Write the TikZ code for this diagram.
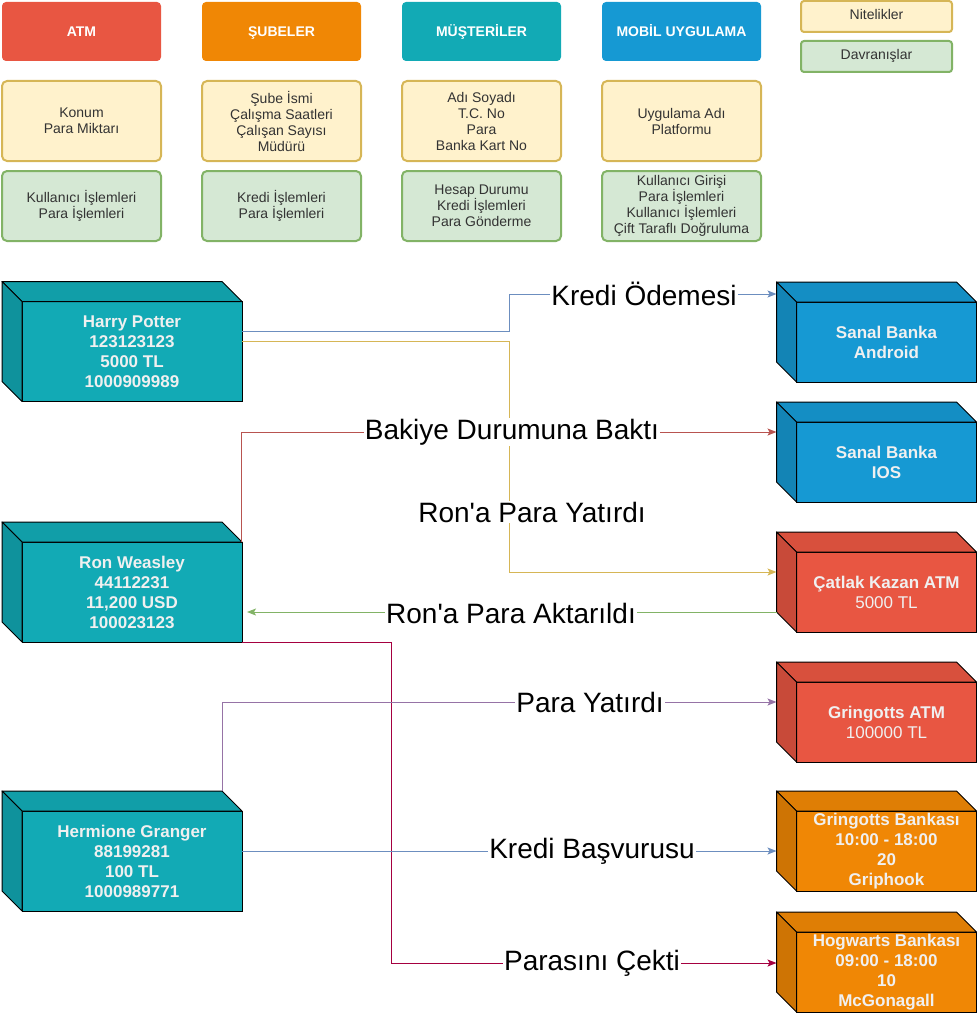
\documentclass[tikz,border=0pt]{standalone}
\usepackage{fontspec}
\setmainfont{Liberation Sans}[Ligatures=TeXOff]
\usetikzlibrary{arrows.meta,calc}
\definecolor{cred}{HTML}{E85642}
\definecolor{corange}{HTML}{F08705}
\definecolor{cteal}{HTML}{12AAB5}
\definecolor{cblue}{HTML}{1699D3}
\definecolor{yfill}{HTML}{FFF2CC}
\definecolor{ystroke}{HTML}{D6B656}
\definecolor{gfill}{HTML}{D5E8D4}
\definecolor{gstroke}{HTML}{82B366}
\definecolor{ltext}{HTML}{333333}
\definecolor{ctext}{HTML}{F0F0F0}
\definecolor{eblue}{HTML}{6C8EBF}
\definecolor{ered}{HTML}{B85450}
\definecolor{epurple}{HTML}{9673A6}
\definecolor{emag}{HTML}{A50040}
\tikzset{
  hdr/.style={fill=#1, rounded corners=4pt, minimum width=159pt, minimum height=59pt, inner sep=0pt, outer sep=0pt, text=white, text height=10pt, text depth=0pt, font=\fontsize{14}{16}\selectfont\bfseries},
  attrbox/.style={draw=ystroke, fill=yfill, line width=2pt, rounded corners=5pt, minimum width=159pt, minimum height=80pt, text=ltext, align=center, font=\fontsize{14}{16}\selectfont, inner sep=0pt},
  behbox/.style={draw=gstroke, fill=gfill, line width=2pt, rounded corners=5pt, minimum width=159pt, minimum height=70pt, text=ltext, align=center, font=\fontsize{14}{16}\selectfont, inner sep=0pt},
  legbox/.style={line width=2pt, rounded corners=3pt, minimum width=151pt, minimum height=31pt, text=ltext, text height=10pt, text depth=3pt, font=\fontsize{14}{16}\selectfont, inner sep=0pt},
  frontface/.style={draw=black, line width=1pt, fill=#1, inner sep=0pt, outer sep=0pt, text=ctext, align=center, font=\fontsize{17}{20}\selectfont\bfseries},
  leftcube/.style={frontface=#1, minimum width=220pt, minimum height=100pt},
  rightcube/.style={frontface=#1, minimum width=180pt, minimum height=80pt},
  lbl/.style={fill=white, inner sep=1pt, text=black, font=\fontsize{28}{32}\selectfont},
  conn/.style={draw=#1, line width=1pt, -{Stealth[length=9pt,width=7pt,inset=2pt]}},
}
\newcommand\cubefaces[2]{%
  \draw[line width=1pt, line join=round, fill=#2!93!black] (#1.north west) -- ++(-20pt,20pt) -- ($(#1.north east)+(-20pt,20pt)$) -- (#1.north east) -- cycle;
  \draw[line width=1pt, line join=round, fill=#2!86!black] (#1.north west) -- ++(-20pt,20pt) -- ($(#1.south west)+(-20pt,20pt)$) -- (#1.south west) -- cycle;
}
\begin{document}
\begin{tikzpicture}[x=1pt,y=-1pt]
\useasboundingbox (0,0) rectangle (977,1014);
% headers
\node[hdr=cred] (hatm) at (81.5,31.5) {ATM};
\node[hdr=corange] (hsube) at (281.5,31.5) {ŞUBELER};
\node[hdr=cteal] (hmus) at (481.5,31.5) {MÜŞTERİLER};
\node[hdr=cblue] (hmob) at (681.5,31.5) {MOBİL UYGULAMA};
% legend
\node[legbox, draw=ystroke, fill=yfill] (lnit) at (876.5,16.5) {Nitelikler};
\node[legbox, draw=gstroke, fill=gfill] (ldav) at (876.5,56.5) {Davranışlar};
% attributes
\node[attrbox] (aatm) at (81.5,121) {Konum\\Para Miktarı};
\node[attrbox] (asube) at (281.5,121) {Şube İsmi\\Çalışma Saatleri\\Çalışan Sayısı\\Müdürü};
\node[attrbox] (amus) at (481.5,121) {Adı Soyadı\\T.C. No\\Para\\Banka Kart No};
\node[attrbox] (amob) at (681.5,121) {Uygulama Adı\\Platformu};
% behaviours
\node[behbox] (batm) at (81.5,206) {Kullanıcı İşlemleri\\Para İşlemleri};
\node[behbox] (bsube) at (281.5,206) {Kredi İşlemleri\\Para İşlemleri};
\node[behbox] (bmus) at (481.5,206) {Hesap Durumu\\Kredi İşlemleri\\Para Gönderme};
\node[behbox] (bmob) at (681.5,206) {Kullanıcı Girişi\\Para İşlemleri\\Kullanıcı İşlemleri\\Çift Taraflı Doğruluma};
% customers
\node[leftcube=cteal] (harry) at (132,351.5) {Harry Potter\\123123123\\5000 TL\\1000909989};
\node[leftcube=cteal] (ron) at (132,592) {Ron Weasley\\44112231\\11,200 USD\\100023123};
\node[leftcube=cteal] (herm) at (132,861) {Hermione Granger\\88199281\\100 TL\\1000989771};
\cubefaces{harry}{cteal}
\cubefaces{ron}{cteal}
\cubefaces{herm}{cteal}
% right side
\node[rightcube=cblue] (android) at (886.5,342) {Sanal Banka\\Android};
\node[rightcube=cblue] (ios) at (886.5,462) {Sanal Banka\\IOS};
\node[rightcube=cred] (catlak) at (886.5,592) {Çatlak Kazan ATM\\\mdseries 5000 TL};
\node[rightcube=cred] (gatm) at (886.5,722) {Gringotts ATM\\\mdseries 100000 TL};
\node[rightcube=corange] (gbank) at (886.5,851) {Gringotts Bankası\\10:00 - 18:00\\20\\Griphook};
\node[rightcube=corange] (hbank) at (886.5,972) {Hogwarts Bankası\\09:00 - 18:00\\10\\McGonagall};
\cubefaces{android}{cblue}
\cubefaces{ios}{cblue}
\cubefaces{catlak}{cred}
\cubefaces{gatm}{cred}
\cubefaces{gbank}{corange}
\cubefaces{hbank}{corange}
% connectors
\draw[conn=eblue] ([yshift=20pt]harry.east) -- ++(267pt,0pt) |- ([xshift=-20pt,yshift=48pt]android.west);
\draw[conn=ystroke] ([yshift=10pt]harry.east) -- ++(267pt,0pt) |- ([xshift=-20pt,yshift=20pt]catlak.west);
\draw[conn=ered] ([xshift=-1pt]ron.north east) |- ([xshift=-20pt,yshift=30pt]ios.west);
\draw[conn=gstroke] ([xshift=-20pt,yshift=-20pt]catlak.west) -- ([xshift=5pt,yshift=-20pt]ron.east);
\draw[conn=emag] (ron.south east) -- ++(149pt,0pt) |- ([xshift=-20pt,yshift=9pt]hbank.west);
\draw[conn=epurple] ([xshift=-20pt,yshift=20pt]herm.north east) |- ([xshift=-20pt,yshift=20pt]gatm.west);
\draw[conn=eblue] ([yshift=10pt]herm.east) -- ([xshift=-20pt]gbank.west);
% labels
\node[lbl] (l1) at (644,294) {Kredi Ödemesi};
\node[lbl] (l2) at (512,432) {Bakiye Durumuna Baktı};
\node[lbl] (l3) at (532,512) {Ron'a Para Yatırdı};
\node[lbl] (l4) at (511,613) {Ron'a Para Aktarıldı};
\node[lbl] (l5) at (590,702) {Para Yatırdı};
\node[lbl] (l6) at (592,851) {Kredi Başvurusu};
\node[lbl] (l7) at (592,963) {Parasını Çekti};
\end{tikzpicture}
\end{document}
